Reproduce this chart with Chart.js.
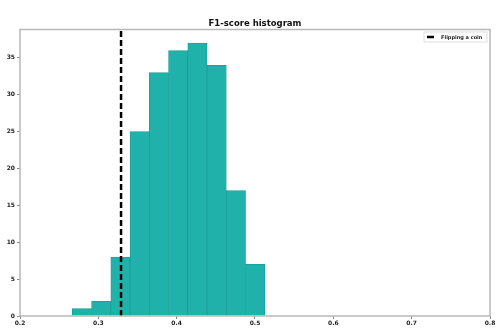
<!DOCTYPE html>
<html>
<head>
<meta charset="utf-8">
<script src="https://cdn.jsdelivr.net/npm/chart.js@4.4.0/dist/chart.umd.min.js"></script>
<style>
  html, body { margin: 0; padding: 0; background: #ffffff; }
  #f1Chart { display: block; }
</style>
</head>
<body>
<canvas id="f1Chart" width="498" height="328"></canvas>
<script>
// histogram bins (edges) and counts
const binEdges = [0.2668, 0.29137, 0.31594, 0.34051, 0.36508, 0.38965, 0.41422, 0.43879, 0.46336, 0.48793, 0.5125]
const binCounts = [1, 2, 8, 25, 33, 36, 37, 34, 17, 7]
const coinScore = 0.329          // dashed reference line
const xTicks = [0.2, 0.3, 0.4, 0.5, 0.6, 0.7, 0.8]
const yTicks = [0, 5, 10, 15, 20, 25, 30, 35]
const yMax = 38.85

const barData = binCounts.map((c, i) => ({ x: (binEdges[i] + binEdges[i + 1]) / 2, y: c }))

// frame around the plot + legend box inside the plot
const frameAndLegend = {
    id: 'frameAndLegend',
    afterDraw(chart) {
        const { ctx, chartArea: a } = chart
        ctx.save()
        ctx.strokeStyle = '#b8b8b8'
        ctx.lineWidth = 1.5
        ctx.strokeRect(a.left, a.top, a.right - a.left, a.bottom - a.top)

        // legend
        const bx = a.right - 66, by = a.top + 2.5, bw = 63, bh = 10
        ctx.fillStyle = 'rgba(255,255,255,0.9)'
        ctx.strokeStyle = '#d8d8d8'
        ctx.lineWidth = 0.8
        ctx.fillRect(bx, by, bw, bh)
        ctx.strokeRect(bx, by, bw, bh)
        ctx.strokeStyle = '#000'
        ctx.lineWidth = 2.5
        ctx.beginPath()
        ctx.moveTo(bx + 3, by + bh / 2)
        ctx.lineTo(bx + 10, by + bh / 2)
        ctx.stroke()
        ctx.fillStyle = '#222'
        ctx.font = 'bold 5px "DejaVu Sans"'
        ctx.textBaseline = 'middle'
        ctx.fillText('Flipping a coin', bx + 17, by + bh / 2 + 0.3)
        ctx.restore()
    }
}

var f1Chart = new Chart(
    document.getElementById('f1Chart'),
    {
        type: 'bar',
        data: {
            datasets: [
                {
                    type: 'bar',
                    label: 'F1-score',
                    data: barData,
                    backgroundColor: '#20b2aa',
                    borderColor: '#1a9d96',
                    borderWidth: 0.8,
                    barPercentage: 1,
                    categoryPercentage: 1,
                    order: 2
                },
                {
                    type: 'line',
                    label: 'Flipping a coin',
                    data: [{ x: coinScore, y: 0 }, { x: coinScore, y: yMax }],
                    borderColor: '#000',
                    borderWidth: 2.5,
                    borderDash: [6, 3],
                    pointRadius: 0,
                    fill: false,
                    order: 1
                }
            ]
        },
        options: {
            responsive: false,
            animation: false,
            devicePixelRatio: 1,
            layout: {
                padding: { left: 0, right: 8, top: 0, bottom: 0 }
            },
            scales: {
                x: {
                    type: 'linear',
                    min: 0.2,
                    max: 0.8,
                    offset: false,
                    afterBuildTicks: scale => { scale.ticks = xTicks.map(v => ({ value: v })) },
                    afterFit: scale => { scale.height = 12 },
                    grid: { display: true, offset: false, drawOnChartArea: false, tickLength: 3, color: '#888' },
                    border: { display: false },
                    ticks: {
                        padding: 1,
                        maxRotation: 0,
                        color: '#222',
                        font: { family: 'DejaVu Sans', size: 6, weight: 'bold' },
                        callback: v => v.toFixed(1)
                    }
                },
                y: {
                    min: 0,
                    max: yMax,
                    afterBuildTicks: scale => { scale.ticks = yTicks.map(v => ({ value: v })) },
                    afterFit: scale => { scale.width = 20 },
                    grid: { display: true, drawOnChartArea: false, tickLength: 3, color: '#888' },
                    border: { display: false },
                    ticks: {
                        padding: 2,
                        color: '#222',
                        font: { family: 'DejaVu Sans', size: 6, weight: 'bold' }
                    }
                }
            },
            plugins: {
                legend: { display: false },
                tooltip: { enabled: false },
                title: {
                    display: true,
                    fullSize: false,
                    text: 'F1-score histogram',
                    color: '#111',
                    padding: { top: 18.5, bottom: 0.8 },
                    font: { family: 'DejaVu Sans', size: 8.5, weight: 'bold' }
                }
            }
        },
        plugins: [frameAndLegend]
    }
);
</script>
</body>
</html>
